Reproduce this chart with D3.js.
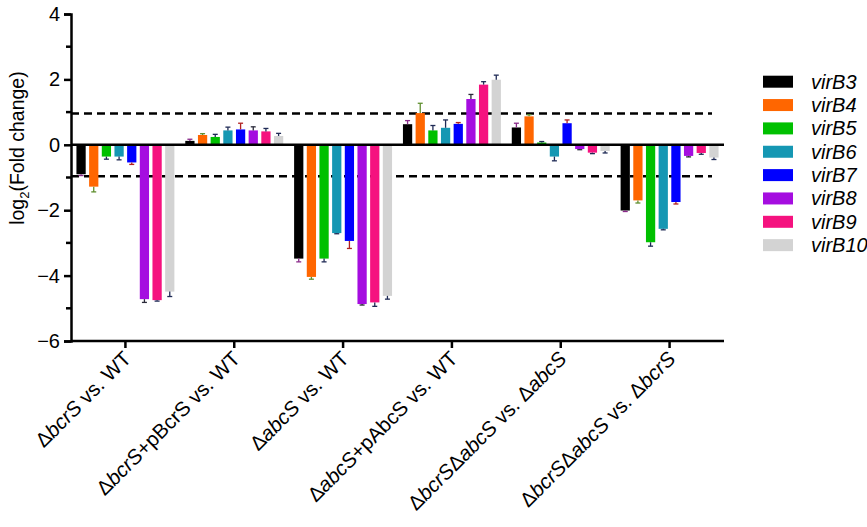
<!DOCTYPE html>
<html><head><meta charset="utf-8">
<script src="https://cdn.jsdelivr.net/npm/d3@7/dist/d3.min.js"></script>
<style>body{margin:0;background:#fff}svg{display:block}text{font-family:"Liberation Sans",Arial,sans-serif}</style>
</head><body><svg id="c" width="867" height="527"></svg>
<script>
const groups = [
  [{t:"Δ"},{t:"bcrS",i:1},{t:" vs. WT"}],
  [{t:"Δ"},{t:"bcrS",i:1},{t:"+pBcrS vs. WT"}],
  [{t:"Δ"},{t:"abcS",i:1},{t:" vs. WT"}],
  [{t:"Δ"},{t:"abcS",i:1},{t:"+pAbcS vs. WT"}],
  [{t:"Δ"},{t:"bcrS",i:1},{t:"Δ"},{t:"abcS",i:1},{t:" vs. Δ"},{t:"abcS",i:1}],
  [{t:"Δ"},{t:"bcrS",i:1},{t:"Δ"},{t:"abcS",i:1},{t:" vs. Δ"},{t:"bcrS",i:1}]
];
const series = ["virB3","virB4","virB5","virB6","virB7","virB8","virB9","virB10"];
const colors = ["#000000","#ff6600","#00c000","#1597b3","#0000ff","#a50de0","#f5127f","#d3d3d3"];
const errColors = ["#8a2a8a","#5f8f2f","#1f2a55","#1f2a55","#b02020","#2a2a3a","#1f2a55","#1f2a55"];
// values per group (rows) x series (cols)
const values = [
  [-0.90,-1.28,-0.36,-0.36,-0.54,-4.72,-4.75,-4.49],
  [ 0.12, 0.30, 0.24, 0.44, 0.47, 0.44, 0.41, 0.27],
  [-3.48,-4.04,-3.48,-2.70,-2.94,-4.87,-4.82,-4.62],
  [ 0.63, 0.97, 0.44, 0.52, 0.64, 1.40, 1.84, 1.99],
  [ 0.53, 0.87, 0.07,-0.36, 0.66,-0.13,-0.24,-0.19],
  [-2.01,-1.70,-2.98,-2.57,-1.75,-0.34,-0.25,-0.39]
];
const errors = [
  [0.04,0.16,0.08,0.10,0.06,0.10,0.03,0.15],
  [0.05,0.04,0.08,0.10,0.19,0.11,0.09,0.08],
  [0.10,0.07,0.10,0.02,0.23,0.03,0.12,0.10],
  [0.11,0.30,0.15,0.24,0.04,0.14,0.09,0.14],
  [0.13,0.05,0.03,0.13,0.10,0.02,0.03,0.06],
  [0.03,0.08,0.12,0.03,0.06,0.03,0.04,0.06]
];
const yTicks = [-6,-4,-2,0,2,4];
const yMinor = [-5,-3,-1,1,3];
const threshold = [0.96,-0.96];

const svg = d3.select("#c");
const L=71, R=724, T=14, B=341;
const y = d3.scaleLinear().domain([-6,4]).range([B,T]);
const x0 = d3.scaleBand().domain(d3.range(groups.length)).range([L,R]).paddingInner(0.1).paddingOuter(0.05);
const x1 = d3.scaleBand().domain(series).range([0,x0.bandwidth()]).paddingInner(0.27);

// dashed threshold lines
svg.selectAll(".thr").data(threshold).join("line")
  .attr("x1",L).attr("x2",712).attr("y1",d=>y(d)).attr("y2",d=>y(d))
  .attr("stroke","#000").attr("stroke-width",2.5).attr("stroke-dasharray","8,5");

// bars
const g = svg.append("g");
values.forEach((row,gi)=>{
  row.forEach((v,si)=>{
    const bx = x0(gi)+x1(series[si]), bw = x1.bandwidth();
    g.append("rect").attr("x",bx).attr("width",bw)
      .attr("y",y(Math.max(0,v))).attr("height",Math.abs(y(v)-y(0)))
      .attr("fill",colors[si]);
    const e = v + Math.sign(v||1)*errors[gi][si];
    const cx = bx+bw/2;
    g.append("line").attr("x1",cx).attr("x2",cx).attr("y1",y(v)).attr("y2",y(e))
      .attr("stroke",errColors[si]).attr("stroke-width",1.3);
    g.append("line").attr("x1",cx-2.5).attr("x2",cx+2.5).attr("y1",y(e)).attr("y2",y(e))
      .attr("stroke",errColors[si]).attr("stroke-width",1.3);
  });
});

// zero line
svg.append("line").attr("x1",L).attr("x2",R).attr("y1",y(0)).attr("y2",y(0))
  .attr("stroke","#000").attr("stroke-width",2.5);

// y axis
const ya = svg.append("g").attr("transform",`translate(${L},0)`)
  .call(d3.axisLeft(y).tickValues(yTicks).tickSize(7).tickPadding(4).tickFormat(d3.format("d")));
ya.select(".domain").attr("stroke-width",2.5);
ya.selectAll(".tick line").attr("stroke-width",2.5);
ya.selectAll("text").attr("font-size",20).attr("fill","#000");
svg.append("g").selectAll("line").data(yMinor).join("line")
  .attr("x1",L-5).attr("x2",L).attr("y1",d=>y(d)).attr("y2",d=>y(d))
  .attr("stroke","#000").attr("stroke-width",2.5);

// x axis
const xa = svg.append("g").attr("transform",`translate(0,${B})`)
  .call(d3.axisBottom(x0).tickSize(7).tickFormat(""));
xa.select(".domain").attr("stroke-width",2.5).attr("d",`M${L},0H${R}`);
xa.selectAll(".tick line").attr("stroke-width",2.5);
groups.forEach((parts,gi)=>{
  const cx = x0(gi)+x0.bandwidth()/2;
  const t = svg.append("text").attr("font-size",20.5).attr("text-anchor","end")
    .attr("transform",`translate(${cx+7},${B+19}) rotate(-45)`);
  parts.forEach(p=>t.append("tspan").text(p.t).attr("font-style",p.i?"italic":"normal"));
});

// y label
const yl = svg.append("text").attr("font-size",19.5).attr("text-anchor","middle")
  .attr("transform",`translate(24,${y(-0.1)}) rotate(-90)`);
yl.append("tspan").text("log");
yl.append("tspan").text("2").attr("font-size",13).attr("dy",5);
yl.append("tspan").text("(Fold change)").attr("dy",-5);

// legend
const lg = svg.append("g");
series.forEach((s,i)=>{
  const yy = 81.7 + i*23.35;
  lg.append("rect").attr("x",763).attr("y",yy-6).attr("width",30).attr("height",12).attr("fill",colors[i]);
  lg.append("text").attr("x",811).attr("y",yy+7).attr("font-size",20).attr("font-style","italic").text(s);
});
</script></body></html>
